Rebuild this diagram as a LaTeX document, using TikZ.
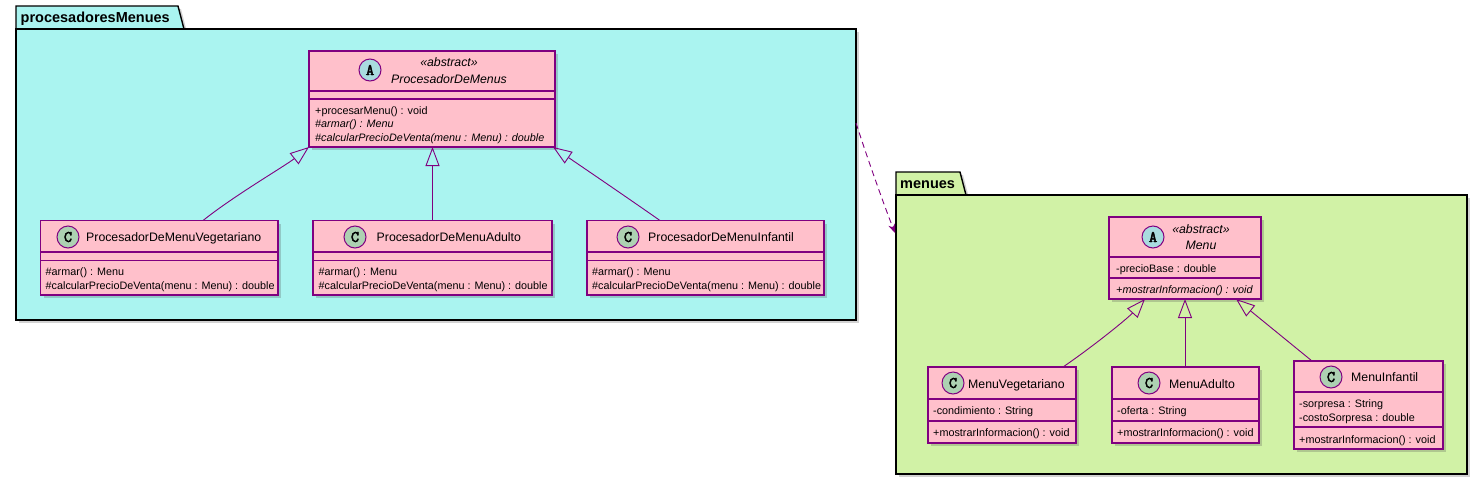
\documentclass[tikz,border=0pt]{standalone}
\usepackage{fontspec}
\setmainfont{Liberation Sans}
\newfontfamily\circfont{Latin Modern Mono}[FakeBold=3]
\usetikzlibrary{arrows.meta,shadows,calc}
\definecolor{pkgA}{RGB}{170,244,240}
\definecolor{pkgB}{RGB}{209,242,166}
\definecolor{clsfill}{RGB}{255,192,203}
\definecolor{clsline}{RGB}{128,0,128}
\definecolor{circAcol}{RGB}{169,220,223}
\definecolor{circCcol}{RGB}{173,209,178}
\tikzset{
 shd/.style={drop shadow={shadow xshift=3pt, shadow yshift=-3pt, opacity=0.25, fill=black!70}},
 pkgbody/.style={draw=black, line width=1.4pt, anchor=north west, inner sep=0pt, outer sep=0pt, shd},
 pkgtab/.style={draw=black, line width=1.4pt, shd},
 clsbox/.style={draw=clsline, fill=clsfill, line width=1.3pt, anchor=north west, inner sep=0pt, outer sep=0pt, shd},
 sepline/.style={draw=clsline, line width=1.3pt},
 mem/.style={anchor=base west, inner sep=0pt, font=\fontsize{10.8}{12}\selectfont},
 memi/.style={anchor=base west, inner sep=0pt, font=\fontsize{10.8}{12}\selectfont\itshape},
 ttl/.style={anchor=base west, inner sep=0pt, font=\fontsize{12.3}{14}\selectfont},
 ttli/.style={anchor=base, inner sep=0pt, font=\fontsize{12.3}{14}\selectfont\itshape},
 acirc/.style={circle, draw=clsline, line width=1pt, fill=circAcol, minimum size=22pt, inner sep=0pt, font=\circfont\fontsize{16}{16}\selectfont},
 ccirc/.style={circle, draw=clsline, line width=1pt, fill=circCcol, minimum size=22pt, inner sep=0pt, font=\circfont\fontsize{16}{16}\selectfont},
 inh/.style={draw=clsline, line width=0.9pt, -{Triangle[open, length=19pt, width=14pt]}},
 dep/.style={draw=clsline, line width=0.9pt, dash pattern=on 6pt off 4pt, -{Stealth[length=9pt, width=7pt]}},
 pkglbl/.style={anchor=base west, inner sep=0pt, font=\fontsize{14.5}{16}\selectfont\bfseries},
}
\begin{document}
\begin{tikzpicture}[x=1pt, y=-1pt]
\useasboundingbox (0,0) rectangle (1482,480);

% ---------- package procesadoresMenues ----------
\path[pkgtab, fill=pkgA] (16,29) -- (16,6) -- (178,6) -- (184,29) -- cycle;
\node[pkgbody, fill=pkgA, minimum width=840pt, minimum height=291pt] (p1) at (16,29) {};
\node[pkglbl] (p1lbl) at (20.5,22.5) {procesadoresMenues};

% ---------- package menues ----------
\path[pkgtab, fill=pkgB] (896,195) -- (896,172) -- (960,172) -- (966,195) -- cycle;
\node[pkgbody, fill=pkgB, minimum width=571pt, minimum height=279pt] (p2) at (896,195) {};
\node[pkglbl] (p2lbl) at (900,188.5) {menues};

% ---------- ProcesadorDeMenus ----------
\node[clsbox, minimum width=246pt, minimum height=96pt] (pdm) at (309,51) {};
\draw[sepline] ($(pdm.north west)+(0,40)$) -- ($(pdm.north east)+(0,40)$);
\draw[sepline] ($(pdm.north west)+(0,48)$) -- ($(pdm.north east)+(0,48)$);
\node[acirc] (pdmc) at (370,70) {A};
\node[ttli] (pdms) at (449,66.7) {«abstract»};
\node[ttli] (pdmn) at (449,83.3) {ProcesadorDeMenus};
\node[mem] (pdm1) at (315,114) {+procesarMenu() : void};
\node[memi] (pdm2) at (315,127.5) {\#armar() : Menu};
\node[memi] (pdm3) at (315,141) {\#calcularPrecioDeVenta(menu : Menu) : double};

% ---------- ProcesadorDeMenuVegetariano ----------
\node[clsbox, minimum width=237.5pt, minimum height=74.5pt] (veg) at (40.5,220.5) {};
\draw[sepline] ($(veg.north west)+(0,31.5)$) -- ($(veg.north east)+(0,31.5)$);
\draw[sepline] ($(veg.north west)+(0,40)$) -- ($(veg.north east)+(0,40)$);
\node[ccirc] (vegc) at (68,237) {C};
\node[ttl] (vegn) at (86,241.5) {ProcesadorDeMenuVegetariano};
\node[mem] (veg1) at (45.5,275) {\#armar() : Menu};
\node[mem] (veg2) at (45.5,289) {\#calcularPrecioDeVenta(menu : Menu) : double};

% ---------- ProcesadorDeMenuAdulto ----------
\node[clsbox, minimum width=239pt, minimum height=74.5pt] (adu) at (313,220.5) {};
\draw[sepline] ($(adu.north west)+(0,31.5)$) -- ($(adu.north east)+(0,31.5)$);
\draw[sepline] ($(adu.north west)+(0,40)$) -- ($(adu.north east)+(0,40)$);
\node[ccirc] (aduc) at (355,237) {C};
\node[ttl] (adun) at (376.5,241.5) {ProcesadorDeMenuAdulto};
\node[mem] (adu1) at (318.5,275) {\#armar() : Menu};
\node[mem] (adu2) at (318.5,289) {\#calcularPrecioDeVenta(menu : Menu) : double};

% ---------- ProcesadorDeMenuInfantil ----------
\node[clsbox, minimum width=237pt, minimum height=74.5pt] (inf) at (587,220.5) {};
\draw[sepline] ($(inf.north west)+(0,31.5)$) -- ($(inf.north east)+(0,31.5)$);
\draw[sepline] ($(inf.north west)+(0,40)$) -- ($(inf.north east)+(0,40)$);
\node[ccirc] (infc) at (628,237) {C};
\node[ttl] (infn) at (648,241.5) {ProcesadorDeMenuInfantil};
\node[mem] (inf1) at (592,275) {\#armar() : Menu};
\node[mem] (inf2) at (592,289) {\#calcularPrecioDeVenta(menu : Menu) : double};

% ---------- Menu ----------
\node[clsbox, minimum width=152pt, minimum height=82pt] (menu) at (1109,217) {};
\draw[sepline] ($(menu.north west)+(0,40)$) -- ($(menu.north east)+(0,40)$);
\draw[sepline] ($(menu.north west)+(0,61)$) -- ($(menu.north east)+(0,61)$);
\node[acirc] (menuc) at (1153,237) {A};
\node[ttli] (menus) at (1201,233.3) {«abstract»};
\node[ttli] (menun) at (1201,249.3) {Menu};
\node[mem] (menu1) at (1116,272) {-precioBase : double};
\node[memi] (menu2) at (1116,293) {+mostrarInformacion() : void};

% ---------- MenuVegetariano ----------
\node[clsbox, minimum width=148pt, minimum height=76pt] (mveg) at (928,367) {};
\draw[sepline] ($(mveg.north west)+(0,32)$) -- ($(mveg.north east)+(0,32)$);
\draw[sepline] ($(mveg.north west)+(0,54)$) -- ($(mveg.north east)+(0,54)$);
\node[ccirc] (mvegc) at (953,383) {C};
\node[ttl] (mvegn) at (968,388) {MenuVegetariano};
\node[mem] (mveg1) at (933,414) {-condimiento : String};
\node[mem] (mveg2) at (933,436) {+mostrarInformacion() : void};

% ---------- MenuAdulto ----------
\node[clsbox, minimum width=147pt, minimum height=76pt] (madu) at (1112,367) {};
\draw[sepline] ($(madu.north west)+(0,32)$) -- ($(madu.north east)+(0,32)$);
\draw[sepline] ($(madu.north west)+(0,54)$) -- ($(madu.north east)+(0,54)$);
\node[ccirc] (maduc) at (1149,383) {C};
\node[ttl] (madun) at (1169,388) {MenuAdulto};
\node[mem] (madu1) at (1117,414) {-oferta : String};
\node[mem] (madu2) at (1117,436) {+mostrarInformacion() : void};

% ---------- MenuInfantil ----------
\node[clsbox, minimum width=149pt, minimum height=88pt] (minf) at (1294,361) {};
\draw[sepline] ($(minf.north west)+(0,31)$) -- ($(minf.north east)+(0,31)$);
\draw[sepline] ($(minf.north west)+(0,66)$) -- ($(minf.north east)+(0,66)$);
\node[ccirc] (minfc) at (1331,377) {C};
\node[ttl] (minfn) at (1351,381.7) {MenuInfantil};
\node[mem] (minf1) at (1299,407) {-sorpresa : String};
\node[mem] (minf2) at (1299,421) {-costoSorpresa : double};
\node[mem] (minf3) at (1299,443) {+mostrarInformacion() : void};

% ---------- connectors ----------
\draw[inh] ($(veg.north west)+(162.5,0)$) .. controls (235,195) and (285,166) .. (pdm.south west);
\draw[inh] (adu.north) -- (adu.north |- pdm.south);
\draw[inh] ($(inf.north west)+(73,0)$) .. controls (625,196) and (575,162) .. ($(pdm.south east)+(-2,0)$);

\draw[inh] ($(mveg.north west)+(135,0)$) .. controls (1095,345) and (1128,318) .. ($(menu.south west)+(36,0)$);
\draw[inh] ($(madu.north west)+(73,0)$) -- ($(menu.south west)+(76,0)$);
\draw[inh] ($(minf.north west)+(18,0)$) -- ($(menu.south west)+(127,0)$);

\draw[dep] ($(p1.north east)+(0,94)$) .. controls (868,160) and (884,205) .. ($(p2.north west)+(-1,38)$);
\end{tikzpicture}
\end{document}
